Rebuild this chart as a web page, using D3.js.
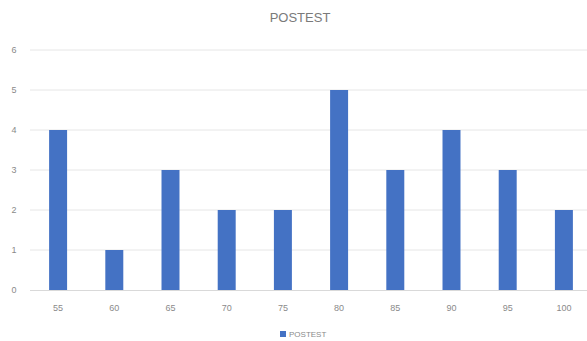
<!DOCTYPE html>
<html><head><meta charset="utf-8">
<script src="https://cdn.jsdelivr.net/npm/d3@7"></script>
<style>body{margin:0;background:#fff;}svg{display:block;font-family:"Liberation Sans",Arial,sans-serif;}</style>
</head><body>
<svg id="c" width="587" height="341"></svg>
<script>
const categories = ["55","60","65","70","75","80","85","90","95","100"];
const values = [4,1,3,2,2,5,3,4,3,2];
const yTicks = [0,1,2,3,4,5,6];
const title = "POSTEST";
const seriesName = "POSTEST";

const svg = d3.select("#c");
const x = d3.scaleBand().domain(categories).range([30, 592]).paddingInner(0.68).paddingOuter(0.34);
const y = d3.scaleLinear().domain([0, 6]).range([290, 50]);

svg.append("g").selectAll("line").data(yTicks.filter(d=>d>0)).join("line")
  .attr("x1", 30).attr("x2", 587).attr("y1", d=>y(d)).attr("y2", d=>y(d))
  .attr("stroke", "#e6e6e6").attr("stroke-width", 1);

svg.append("g").selectAll("text").data(yTicks).join("text")
  .attr("x", 14).attr("y", d=>y(d)+3).attr("text-anchor","middle")
  .attr("font-size", 9).attr("fill", "#8a8a8a").text(d=>d);

svg.append("g").selectAll("rect").data(values).join("rect")
  .attr("x", (d,i)=>x(categories[i])).attr("width", x.bandwidth())
  .attr("y", d=>y(d)).attr("height", d=>y(0)-y(d)).attr("fill", "#4472c4");

svg.append("line").attr("x1",30).attr("x2",587).attr("y1",290.5).attr("y2",290.5)
  .attr("stroke","#d9d9d9");

svg.append("g").selectAll("text").data(categories).join("text")
  .attr("x", d=>x(d)+x.bandwidth()/2).attr("y", 311).attr("text-anchor","middle")
  .attr("font-size", 9).attr("fill", "#8a8a8a").text(d=>d);

svg.append("text").attr("x", 300).attr("y", 22).attr("text-anchor","middle")
  .attr("font-size", 13).attr("fill", "#7a7a7a").text(title);

const lg = svg.append("g").attr("transform","translate(280,337)");
lg.append("rect").attr("x",0).attr("y",-6).attr("width",6).attr("height",6).attr("fill","#4472c4");
lg.append("text").attr("x",9).attr("y",0).attr("font-size",8).attr("fill","#8a8a8a").text(seriesName);
</script>
</body></html>
